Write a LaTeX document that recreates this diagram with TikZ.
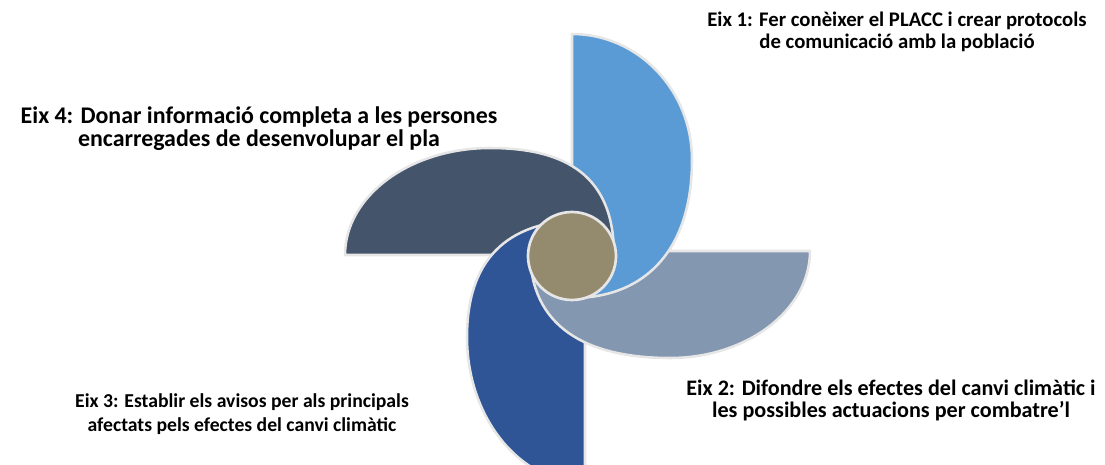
\documentclass[tikz,border=0pt]{standalone}
\usepackage{fontspec}
\setmainfont{Carlito}
\usepackage{tikz}

\definecolor{eixone}{HTML}{5B9BD5}
\definecolor{eixtwo}{HTML}{8497B0}
\definecolor{eixthree}{HTML}{2F5597}
\definecolor{eixfour}{HTML}{44546A}
\definecolor{hubtan}{HTML}{948A6E}
\definecolor{edgegrey}{HTML}{E7E6E6}

\begin{document}
\begin{tikzpicture}[x=0.05cm, y=-0.05cm,
        blade/.style={draw=edgegrey, line width=3.6pt, line join=round},
        hub/.style={circle, draw=edgegrey, line width=3.8pt, fill=hubtan, minimum size=4.4cm, inner sep=0pt},
        eixlabel/.style={align=center, inner sep=0pt, font=\bfseries}]

    \useasboundingbox (0,0) rectangle (1105,465);

    % Blades
    \begin{scope}
        \clip (0,0) rectangle (1105,465);
        \path[blade, fill=eixone] (572,34) .. controls (638,34) and (692,90) .. (692,160)
            .. controls (692,248) and (647,298) .. (572,298) -- cycle;
        \path[blade, fill=eixfour] (345,255) .. controls (345,196) and (410,148) .. (490,148)
            .. controls (577,148) and (614,185) .. (614,255) -- cycle;
        \path[blade, fill=eixthree] (585,483) .. controls (520,483) and (467,418) .. (467,337)
            .. controls (467,252) and (515,220) .. (585,220) -- cycle;
        \path[blade, fill=eixtwo] (810,251) .. controls (810,310) and (747,358) .. (670,358)
            .. controls (585,358) and (530,326) .. (530,251) -- cycle;
    \end{scope}
    % Eix 1 again, over Eix 2
    \begin{scope}
        \clip (574,248) rectangle (830,470);
        \path[blade, fill=eixone] (572,34) .. controls (638,34) and (692,90) .. (692,160)
            .. controls (692,248) and (647,298) .. (572,298) -- cycle;
    \end{scope}

    % Hub
    \node[hub] (hub) at (572,256) {};

    % Labels
    \node[eixlabel, font=\fontsize{29.5}{31.3}\selectfont\bfseries] (eix1) at (897,32)
        {Eix 1: Fer conèixer el PLACC i crear protocols\\de comunicació amb la població};
    \node[eixlabel, font=\fontsize{31.5}{31.3}\selectfont\bfseries] (eix2) at (891,400)
        {Eix 2: Difondre els efectes del canvi climàtic i\\les possibles actuacions per combatre’l};
    \node[eixlabel, font=\fontsize{28}{34}\selectfont\bfseries] (eix3) at (242,414)
        {Eix 3: Establir els avisos per als principals\\afectats pels efectes del canvi climàtic};
    \node[eixlabel, font=\fontsize{34}{32.7}\selectfont\bfseries] (eix4) at (259,129)
        {Eix 4: Donar informació completa a les persones\\encarregades de desenvolupar el pla};
\end{tikzpicture}
\end{document}
